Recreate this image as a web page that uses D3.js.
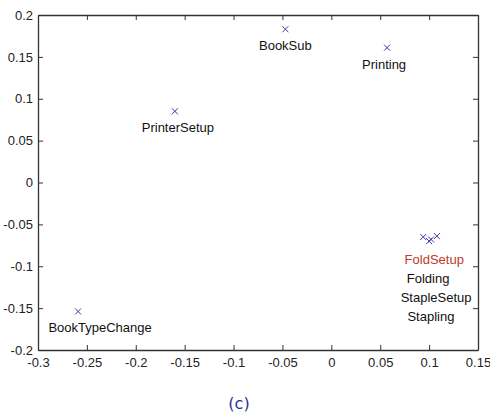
<!DOCTYPE html>
<html>
<head>
<meta charset="utf-8">
<script src="https://cdn.jsdelivr.net/npm/d3@7"></script>
<style>
  body { margin: 0; background: #fff; }
  svg { display: block; font-family: "Liberation Sans", Arial, sans-serif; }
  .tick text { font-size: 13px; fill: #222; }
  .domain, .tick line { stroke: #333; }
  .label { font-size: 13px; fill: #111; }
</style>
</head>
<body>
<div id="chart"></div>
<script>
// data
const names = ['BookSub', 'Printing', 'PrinterSetup', 'BookTypeChange', 'FoldSetup', 'Folding', 'StapleSetup', 'Stapling'];
const xs = [-0.047, 0.057, -0.160, -0.259, 0.094, 0.100, 0.102, 0.108];
const ys = [0.183, 0.161, 0.085, -0.154, -0.065, -0.070, -0.068, -0.064];
const xTicks = [-0.3, -0.25, -0.2, -0.15, -0.1, -0.05, 0, 0.05, 0.1, 0.15];
const yTicks = [-0.2, -0.15, -0.1, -0.05, 0, 0.05, 0.1, 0.15, 0.2];

// label placement (pixel offsets from the point), kept out of the data
const labelDx = [0, -3, 3, 22, 11, -1, 5, -6];
const labelDy = [21, 21, 21, 21, 27, 42, 63, 85];
const labelColor = d => d === 'FoldSetup' ? '#c0392b' : '#111';

const width = 490;
const height = 416;
const marginTop = 15;
const marginLeft = 38;
const plotW = 440;
const plotH = 335;

const svg = d3.select('#chart').append('svg')
  .attr('width', width)
  .attr('height', height);

const x = d3.scaleLinear().domain([-0.3, 0.15]).range([0, plotW]);
const y = d3.scaleLinear().domain([-0.2, 0.2]).range([plotH, 0]);

const g = svg.append('g').attr('transform', `translate(${marginLeft},${marginTop})`);

const fmt = d => d3.format('')(+d.toFixed(2)).replace('−', '-');

// bottom + left axes with labels, ticks pointing inward
g.append('g')
  .attr('transform', `translate(0,${plotH})`)
  .call(d3.axisBottom(x).tickValues(xTicks).tickFormat(fmt).tickSizeInner(-5).tickSizeOuter(0).tickPadding(8));
g.append('g')
  .call(d3.axisLeft(y).tickValues(yTicks).tickFormat(fmt).tickSizeInner(-5).tickSizeOuter(0).tickPadding(5));
// top + right axes, ticks only
g.append('g')
  .call(d3.axisTop(x).tickValues(xTicks).tickFormat('').tickSizeInner(-5).tickSizeOuter(0));
g.append('g')
  .attr('transform', `translate(${plotW},0)`)
  .call(d3.axisRight(y).tickValues(yTicks).tickFormat('').tickSizeInner(-5).tickSizeOuter(0));

g.selectAll('.domain').attr('stroke-width', 1.3);

const pts = names.map((n, i) => ({ name: n, x: xs[i], y: ys[i], i }));

// x markers
const s = 3;
g.selectAll('.marker')
  .data(pts)
  .enter()
  .append('path')
  .attr('class', 'marker')
  .attr('d', d => {
    const px = x(d.x), py = y(d.y);
    return `M${px - s},${py - s}L${px + s},${py + s}M${px - s},${py + s}L${px + s},${py - s}`;
  })
  .attr('stroke', '#3a3aa8')
  .attr('stroke-width', 1)
  .attr('fill', 'none');

// point labels
g.selectAll('.label')
  .data(pts)
  .enter()
  .append('text')
  .attr('class', 'label')
  .attr('x', d => x(d.x) + labelDx[d.i])
  .attr('y', d => y(d.y) + labelDy[d.i])
  .attr('text-anchor', 'middle')
  .style('fill', d => labelColor(d.name))
  .text(d => d.name);

// caption
svg.append('text')
  .attr('x', 239)
  .attr('y', 409)
  .attr('text-anchor', 'middle')
  .style('font-family', 'Verdana, "DejaVu Sans", sans-serif')
  .style('font-size', '16px')
  .style('fill', '#2e3192')
  .text('(c)');
</script>
</body>
</html>
